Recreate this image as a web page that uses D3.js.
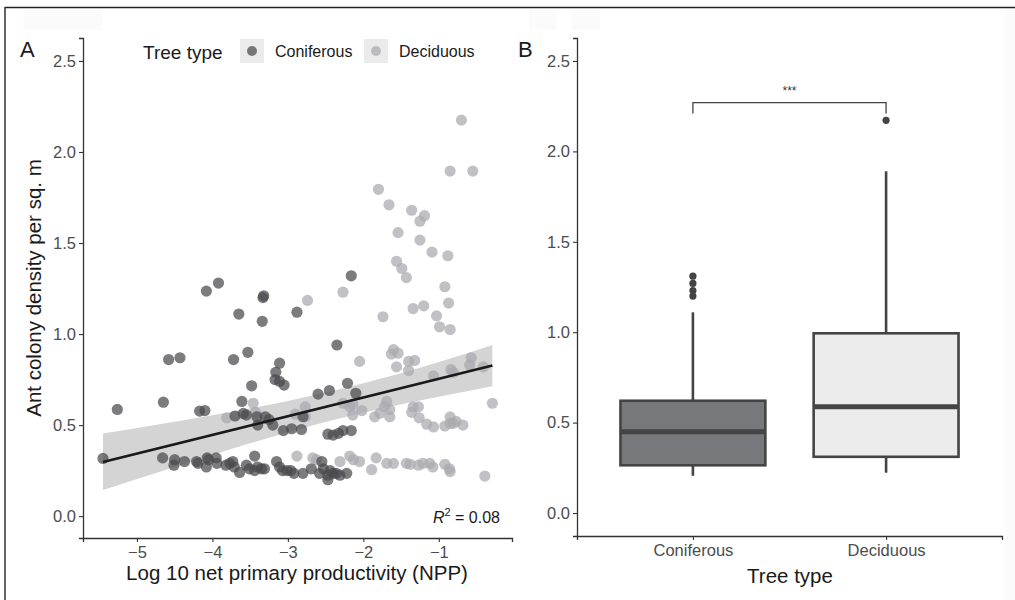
<!DOCTYPE html>
<html>
<head>
<meta charset="utf-8">
<script src="https://cdn.jsdelivr.net/npm/d3@7"></script>
<style>
  html, body { margin: 0; padding: 0; background: #ffffff; }
  svg text { font-family: "Liberation Sans", Arial, Helvetica, sans-serif; }
</style>
</head>
<body>
<svg id="chart" width="1015" height="600"></svg>
<script>
// ---------------- DATA ----------------
// Panel A: scatter, Coniferous
const conX = [-5.45,-5.26,-4.66,-4.65,-4.58,-4.43,-4.50,-4.51,-4.37,-4.21,-4.19,-4.17,-4.10,-4.08,-3.92,-4.07,-4.05,-4.08,-3.95,-3.94,
  -3.82,-3.77,-3.73,-3.71,-3.64,-3.55,-3.51,-3.44,-3.44,-3.40,-3.35,-3.31,-3.72,-3.53,-3.65,-3.34,-3.33,-3.32,-2.88,-3.61,
  -3.59,-3.55,-3.48,-3.11,-3.16,-3.17,-3.11,-3.05,-3.41,-3.30,-3.40,-3.06,-2.95,-2.82,-2.80,-2.35,-2.60,-2.45,-2.21,-2.10,
  -2.47,-2.40,-2.33,-2.27,-2.16,-2.16,-3.15,-3.11,-3.07,-3.01,-2.96,-2.92,-2.80,-2.69,-2.58,-2.53,-2.47,-2.44,-2.40,-2.36,
  -2.31,-2.22,-2.47,-2.55,-3.25,-3.20,-3.70];
const conY = [0.317,0.586,0.32,0.626,0.86,0.87,0.31,0.28,0.30,0.30,0.29,0.577,0.58,1.236,1.28,0.32,0.31,0.27,0.32,0.29,
  0.28,0.29,0.30,0.27,0.24,0.28,0.26,0.33,0.25,0.27,0.26,0.26,0.86,0.90,1.11,1.07,1.20,1.21,1.12,0.63,
  0.564,0.555,0.716,0.84,0.79,0.75,0.74,0.72,0.546,0.546,0.50,0.47,0.48,0.476,0.546,0.94,0.67,0.69,0.73,0.675,
  0.45,0.445,0.455,0.47,0.47,1.32,0.30,0.27,0.25,0.25,0.25,0.235,0.235,0.26,0.235,0.26,0.225,0.25,0.235,0.235,
  0.225,0.235,0.20,0.30,0.53,0.50,0.55];
// Panel A: scatter, Deciduous
const decX = [-0.70,-0.85,-0.55,-1.80,-1.66,-1.36,-1.19,-1.25,-1.54,-1.25,-1.09,-0.88,-1.56,-1.49,-1.43,-2.27,-2.74,-0.92,-0.87,-1.34,
  -1.20,-1.03,-1.74,-0.99,-0.85,-2.05,-1.60,-1.63,-1.54,-1.56,-1.40,-1.32,-1.40,-1.07,-0.84,-0.81,-0.57,-0.59,-0.41,-0.29,
  -2.77,-2.14,-2.18,-2.14,-2.02,-1.69,-1.72,-1.65,-1.78,-1.85,-1.65,-1.36,-1.27,-1.34,-1.26,-1.16,-1.07,-0.92,-0.85,-0.85,
  -0.81,-0.77,-0.68,-3.46,-3.43,-2.77,-2.27,-2.88,-2.67,-2.62,-2.18,-2.13,-2.05,-1.89,-1.83,-1.69,-1.60,-1.43,-1.38,-1.27,
  -1.21,-1.12,-1.08,-0.92,-0.86,-0.85,-0.39,-2.31,-3.81,-2.90];
const decY = [2.175,1.895,1.895,1.795,1.71,1.68,1.65,1.62,1.557,1.516,1.45,1.43,1.40,1.36,1.31,1.23,1.185,1.26,1.17,1.14,
  1.155,1.10,1.095,1.04,1.025,0.85,0.915,0.89,0.895,0.82,0.85,0.855,0.80,0.77,0.805,0.79,0.87,0.83,0.82,0.62,
  0.60,0.615,0.60,0.555,0.58,0.63,0.60,0.585,0.565,0.545,0.545,0.57,0.60,0.60,0.54,0.505,0.49,0.495,0.545,0.51,
  0.51,0.52,0.50,0.62,0.57,0.545,0.62,0.33,0.32,0.31,0.33,0.31,0.30,0.255,0.32,0.29,0.29,0.29,0.285,0.28,
  0.29,0.29,0.27,0.285,0.26,0.245,0.22,0.30,0.54,0.56];
// Panel A: fitted line and its confidence band
const fitX = [-5.45, -0.29];
const fitY = [0.297, 0.827];
const bandX  = [-5.45, -4.5, -4.0, -3.5, -3.0, -2.5, -2.0, -1.5, -1.0, -0.29];
const bandLo = [0.143, 0.270, 0.336, 0.400, 0.461, 0.517, 0.568, 0.615, 0.656, 0.714];
const bandHi = [0.454, 0.518, 0.554, 0.592, 0.633, 0.679, 0.730, 0.785, 0.846, 0.940];
const r2Text = "0.08";
const xTicksA = [-5, -4, -3, -2, -1];
const yTicks = [0, 0.5, 1.0, 1.5, 2.0, 2.5];

// Panel B: box plot summaries
const categories = ["Coniferous", "Deciduous"];
const boxQ1  = [0.264, 0.311];
const boxMed = [0.45, 0.588];
const boxQ3  = [0.621, 0.994];
const whiskLo = [0.206, 0.223];
const whiskHi = [1.11, 1.89];
const outliersCon = [1.20, 1.23, 1.27, 1.31];
const outliersDec = [2.172];
const sigLabel = "***";
const sigY = [2.21, 2.27];

// ---------------- DRAW ----------------
const svg = d3.select("#chart");
const FONT_TICK = 16.5;
const FONT_TITLE = 20.5;
const conCol = "#4a4a4e", decCol = "#a9a9ae";

// frame
svg.append("rect").attr("x",0).attr("y",0).attr("width",1015).attr("height",600).attr("fill","#ffffff");
svg.append("rect").attr("x",1005).attr("y",8).attr("width",10).attr("height",592).attr("fill","#fbfbfb");
svg.append("rect").attr("x",23).attr("y",10).attr("width",79).attr("height",20).attr("fill","#fbfbfb");
svg.append("rect").attr("x",529).attr("y",10).attr("width",28).attr("height",20).attr("fill","#fbfbfb");
svg.append("rect").attr("x",571).attr("y",10).attr("width",29).attr("height",20).attr("fill","#fbfbfb");
svg.append("line").attr("x1",5).attr("x2",1015).attr("y1",7.5).attr("y2",7.5).attr("stroke","#222").attr("stroke-width",1.4);
svg.append("line").attr("x1",5).attr("x2",5).attr("y1",7).attr("y2",600).attr("stroke","#222").attr("stroke-width",1.4);

function styleAxis(g) {
  g.select(".domain").attr("stroke","#333").attr("stroke-width",1.3);
  g.selectAll(".tick line").attr("stroke","#333").attr("stroke-width",1.1);
  g.selectAll(".tick text").attr("fill","#4d4d4d").style("font-size", FONT_TICK+"px")
    .style("font-family", '"Liberation Sans", Arial, sans-serif');
}

// ---- Panel A ----
const xA = d3.scaleLinear().domain([-5.715, -0.03]).range([83, 512]);
const yA = d3.scaleLinear().domain([-0.12, 2.626]).range([538, 38]);

const gA = svg.append("g");
// band
const area = d3.area().x(d => xA(d[0])).y0(d => yA(d[1])).y1(d => yA(d[2])).curve(d3.curveMonotoneX);
gA.append("path").datum(bandX.map((x,i) => [x, bandLo[i], bandHi[i]]))
  .attr("d", area).attr("fill", "#999999").attr("opacity", 0.42);
// points
gA.append("g").selectAll("circle").data(decX.map((x,i) => [x, decY[i]])).join("circle")
  .attr("cx", d => xA(d[0])).attr("cy", d => yA(d[1])).attr("r", 5.6)
  .attr("fill", decCol).attr("fill-opacity", 0.72);
gA.append("g").selectAll("circle").data(conX.map((x,i) => [x, conY[i]])).join("circle")
  .attr("cx", d => xA(d[0])).attr("cy", d => yA(d[1])).attr("r", 5.6)
  .attr("fill", conCol).attr("fill-opacity", 0.72);
// fit line
gA.append("path").datum(fitX.map((x,i) => [x, fitY[i]]))
  .attr("d", d3.line().x(d => xA(d[0])).y(d => yA(d[1])))
  .attr("stroke", "#1a1a1a").attr("stroke-width", 2.6).attr("fill", "none");
// axes
const axYA = gA.append("g").attr("transform","translate(83,0)")
  .call(d3.axisLeft(yA).tickValues(yTicks).tickFormat(d3.format(".1f")).tickSize(4).tickPadding(3));
styleAxis(axYA);
const axXA = gA.append("g").attr("transform","translate(0,538)")
  .call(d3.axisBottom(xA).tickValues(xTicksA).tickFormat(d3.format("d")).tickSize(4).tickPadding(4));
styleAxis(axXA);
// titles
gA.append("text").attr("x", 297).attr("y", 580).attr("text-anchor","middle")
  .style("font-size", FONT_TITLE+"px").attr("fill","#1a1a1a").text("Log 10 net primary productivity (NPP)");
gA.append("text").attr("transform","translate(41,288) rotate(-90)").attr("text-anchor","middle")
  .style("font-size", FONT_TITLE+"px").attr("fill","#1a1a1a").text("Ant colony density per sq. m");
gA.append("text").attr("x", 20).attr("y", 57).style("font-size","22px").attr("fill","#1a1a1a").text("A");
// R2
const r2 = gA.append("text").attr("x", 500).attr("y", 523).attr("text-anchor","end")
  .style("font-size","16px").attr("fill","#1a1a1a");
r2.append("tspan").style("font-style","italic").text("R");
r2.append("tspan").attr("dy",-7).style("font-size","11px").text("2");
r2.append("tspan").attr("dy",7).text(" = " + r2Text);

// legend
const lg = gA.append("g");
lg.append("text").attr("x", 143).attr("y", 59).style("font-size","19px").attr("fill","#1a1a1a").text("Tree type");
const legendItems = [{label:"Coniferous", col:conCol, x:240, tx:275}, {label:"Deciduous", col:decCol, x:364, tx:399}];
legendItems.forEach(it => {
  lg.append("rect").attr("x", it.x).attr("y", 39).attr("width", 24).attr("height", 24).attr("fill", "#ebebeb");
  lg.append("circle").attr("cx", it.x+12).attr("cy", 51).attr("r", 5).attr("fill", it.col).attr("fill-opacity", 0.72);
  lg.append("text").attr("x", it.tx).attr("y", 57).style("font-size","16px").attr("fill","#1a1a1a").text(it.label);
});

// ---- Panel B ----
const xB = d3.scaleLinear().domain([0.4, 2.6]).range([577, 1002]);
const yB = d3.scaleLinear().domain([-0.127, 2.627]).range([536, 38]);
const gB = svg.append("g");
const boxW = 0.75;
const boxFill = ["#77787b", "#ececec"];
const outl = [outliersCon, outliersDec];
categories.forEach((c, i) => {
  const cx = xB(i+1);
  const x0 = xB(i+1 - boxW/2), x1 = xB(i+1 + boxW/2);
  gB.append("line").attr("x1",cx).attr("x2",cx).attr("y1",yB(boxQ3[i])).attr("y2",yB(whiskHi[i]))
    .attr("stroke","#444").attr("stroke-width",2.6);
  gB.append("line").attr("x1",cx).attr("x2",cx).attr("y1",yB(boxQ1[i])).attr("y2",yB(whiskLo[i]))
    .attr("stroke","#444").attr("stroke-width",2.6);
  gB.append("rect").attr("x",x0).attr("y",yB(boxQ3[i])).attr("width",x1-x0).attr("height",yB(boxQ1[i])-yB(boxQ3[i]))
    .attr("fill",boxFill[i]).attr("stroke","#444").attr("stroke-width",2.6);
  gB.append("line").attr("x1",x0).attr("x2",x1).attr("y1",yB(boxMed[i])).attr("y2",yB(boxMed[i]))
    .attr("stroke","#444").attr("stroke-width",5);
  gB.append("g").selectAll("circle").data(outl[i]).join("circle")
    .attr("cx",cx).attr("cy",d => yB(d)).attr("r",3.6).attr("fill","#444");
});
// significance bracket
gB.append("path").attr("d", d3.line()([[xB(1), yB(sigY[0])],[xB(1), yB(sigY[1])],[xB(2), yB(sigY[1])],[xB(2), yB(sigY[0])]]))
  .attr("fill","none").attr("stroke","#444").attr("stroke-width",1.3);
gB.append("text").attr("x", (xB(1)+xB(2))/2).attr("y", yB(sigY[1]) - 8).attr("text-anchor","middle")
  .style("font-size","12px").attr("fill","#333").text(sigLabel);
// axes
const axYB = gB.append("g").attr("transform","translate(577,0)")
  .call(d3.axisLeft(yB).tickValues(yTicks).tickFormat(d3.format(".1f")).tickSize(4).tickPadding(3));
styleAxis(axYB);
const axXB = gB.append("g").attr("transform","translate(0,536)")
  .call(d3.axisBottom(xB).tickValues([1,2]).tickFormat((d) => categories[d-1]).tickSize(4).tickPadding(4));
styleAxis(axXB);
gB.append("text").attr("x", 790).attr("y", 583).attr("text-anchor","middle")
  .style("font-size", FONT_TITLE+"px").attr("fill","#1a1a1a").text("Tree type");
gB.append("text").attr("x", 518).attr("y", 57).style("font-size","22px").attr("fill","#1a1a1a").text("B");
</script>
</body>
</html>
